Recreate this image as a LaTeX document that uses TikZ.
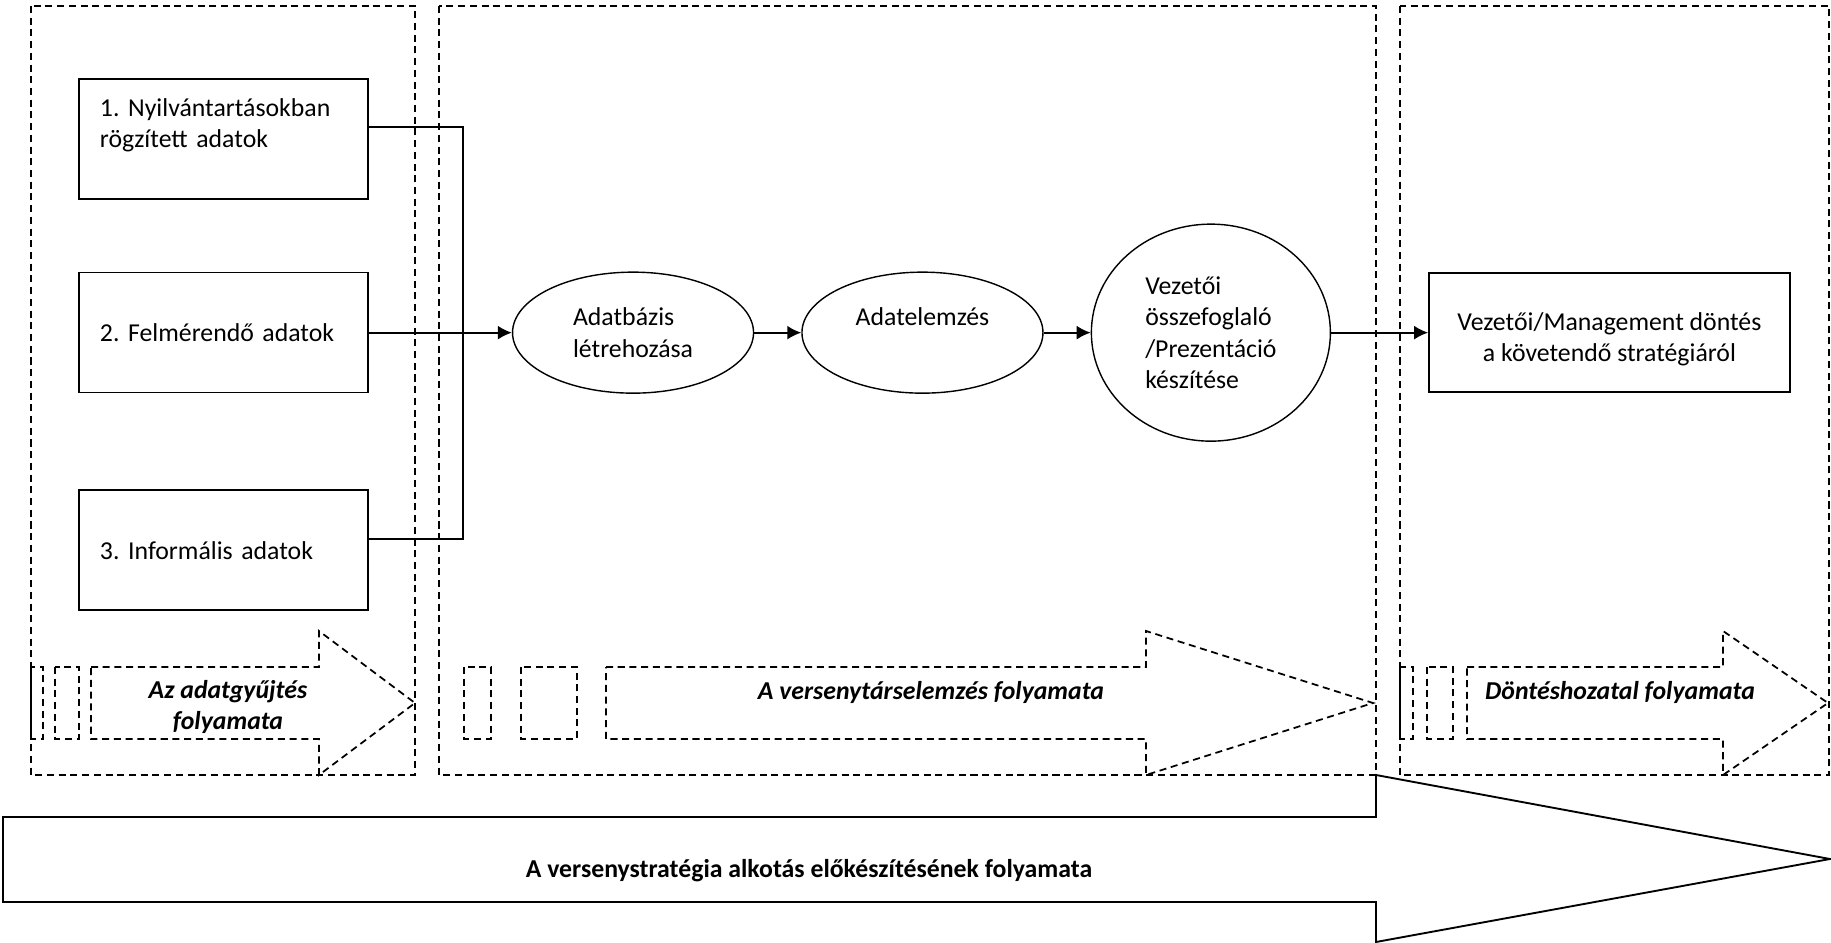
\documentclass[tikz,border=0pt]{standalone}
\usepackage{fontspec}
\setmainfont{Carlito}
\usetikzlibrary{shapes.geometric, arrows.meta, positioning}
\frenchspacing
\tikzstyle{every node}=[font=\fontsize{11pt}{13.4pt}\selectfont]
\tikzstyle{block}=[draw,fill=white,rectangle,line width=0.7pt,minimum width=4.335cm,minimum height=1.8cm]
\tikzstyle{src}=[block,text width=3.705cm,inner xsep=0.315cm,align=left]
\tikzstyle{proc}=[draw,ellipse,line width=0.6pt,inner sep=1pt,align=left,minimum width=3.615cm,minimum height=1.815cm]
\tikzstyle{zone}=[line width=0.75pt,dash pattern=on 3pt off 2pt]
\tikzstyle{wire}=[line width=0.8pt]
\tikzstyle{flow}=[font=\fontsize{11pt}{13.4pt}\selectfont\bfseries\itshape,align=center]
\newcommand{\stripedarrow}[7]{%
  \draw[zone] (#1,667) rectangle (#2,739);
  \draw[zone] (#3,667) rectangle (#4,739);
  \draw[zone] (#5,667) -- (#6,667) -- (#6,631) -- (#7,703) -- (#6,775) -- (#6,739) -- (#5,739) -- cycle;}

\begin{document}
\begin{tikzpicture}[x=0.015cm,y=-0.015cm,>={Latex[length=0.21cm,width=0.21cm]}]
  \useasboundingbox (0,0) rectangle (1831,943);
  % phases
  \draw[zone] (31,6) rectangle (415,775);
  \draw[zone] (439,6) rectangle (1376,775);
  \draw[zone] (1400,6) rectangle (1829,775);

  % data sources
  \node[src] (rec) at (223.5,139) {1. Nyilvántartásokban\\rögzített adatok\\\mbox{}};
  \node[src, below=1.08cm of rec] (survey) {2. Felmérendő adatok};
  \node[src, below=1.44cm of survey] (inf) {3. Informális adatok};

  % analysis
  \node[proc, right=2.145cm of survey] (db) {Adatbázis\\létrehozása};
  \node[proc, right=0.705cm of db] (anal) {Adatelemzés\\\mbox{}};
  \node[proc, right=0.705cm of anal, minimum width=3.585cm, minimum height=3.255cm] (summ) {Vezetői\\összefoglaló\\/Prezentáció\\készítése};
  \node[block, right=1.455cm of summ, minimum width=5.415cm, minimum height=1.785cm, align=center] (dec) {\mbox{}\\Vezetői/Management döntés\\a követendő stratégiáról};

  \coordinate (bus) at (463,331);
  \draw[wire] ([yshift=0.18cm]rec.east) -| (bus);
  \draw[wire] ([yshift=0.165cm]inf.east) -| (bus);
  \draw[wire,->] (survey) -- (db);
  \draw[wire,->] (db) -- (anal);
  \draw[wire,->] (anal) -- (summ);
  \draw[wire,->] (summ) -- (dec);

  % phase arrows
  \stripedarrow{31}{43}{55}{79}{91}{319}{415}
  \stripedarrow{464}{491}{521}{577}{606}{1146}{1373}
  \stripedarrow{1400}{1413}{1427}{1453}{1467}{1723}{1828}
  \node[flow] (collect) at (228,707) {Az adatgyűjtés\\folyamata};
  \node[flow] (compet) at (931,692) {A versenytárselemzés folyamata};
  \node[flow] (decide) at (1620,692) {Döntéshozatal folyamata};

  % overall process
  \draw[wire] (3,817) -- (1376,817) -- (1376,775) -- (1830,859) -- (1376,942) -- (1376,902) -- (3,902) -- cycle;
  \node[font=\fontsize{11pt}{13.4pt}\selectfont\bfseries] (whole) at (809,871) {A versenystratégia alkotás előkészítésének folyamata};
\end{tikzpicture}
\end{document}
